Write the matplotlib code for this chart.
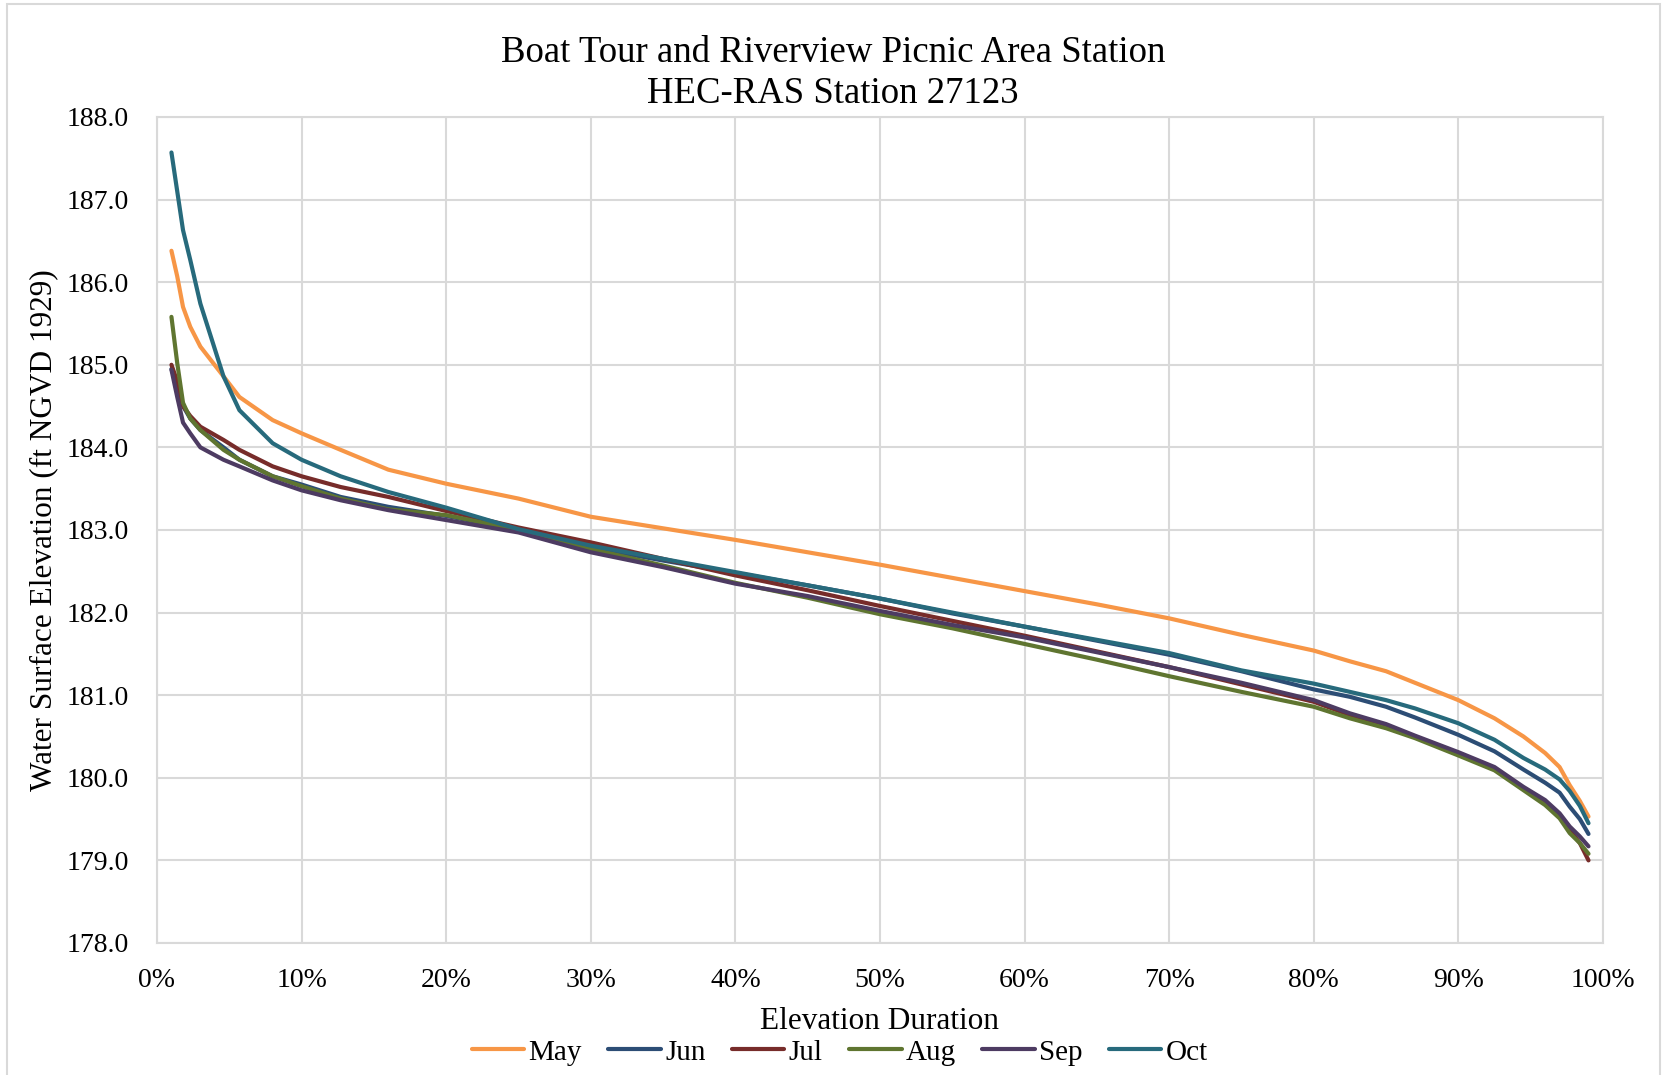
import matplotlib.pyplot as plt
from matplotlib.patches import Rectangle
from matplotlib.ticker import FuncFormatter

plt.rcParams['font.family'] = ['Liberation Serif', 'DejaVu Serif']

# percent of time elevation is exceeded
durasi = [1, 1.4, 1.8, 2.3, 3, 4.6, 5.7, 8, 10, 12.7, 16, 20, 25, 30, 35, 40, 45, 50, 55,
          60, 65, 70, 75, 80, 82.5, 85, 87, 90, 92.5, 94.5, 96, 97, 97.7, 98.4, 99]

may = [186.38, 186.07, 185.70, 185.46, 185.22, 184.86, 184.61, 184.33, 184.17, 183.97, 183.73,
       183.56, 183.38, 183.16, 183.02, 182.88, 182.73, 182.58, 182.42, 182.26, 182.10, 181.93,
       181.73, 181.54, 181.41, 181.29, 181.15, 180.94, 180.72, 180.50, 180.30, 180.13, 179.91,
       179.72, 179.53]
jun = [184.95, 184.75, 184.50, 184.35, 184.21, 184.00, 183.85, 183.65, 183.55, 183.40, 183.28,
       183.17, 183.00, 182.79, 182.63, 182.48, 182.33, 182.17, 181.99, 181.83, 181.66, 181.49,
       181.29, 181.07, 180.98, 180.86, 180.73, 180.52, 180.32, 180.10, 179.94, 179.82, 179.65,
       179.50, 179.32]
jul = [185.00, 184.80, 184.50, 184.38, 184.25, 184.09, 183.97, 183.77, 183.65, 183.52, 183.40,
       183.23, 183.03, 182.85, 182.65, 182.45, 182.27, 182.08, 181.90, 181.72, 181.53, 181.34,
       181.13, 180.92, 180.76, 180.62, 180.50, 180.29, 180.11, 179.87, 179.69, 179.53, 179.37,
       179.21, 179.00]
aug = [185.58, 185.02, 184.54, 184.35, 184.21, 183.97, 183.85, 183.65, 183.53, 183.38, 183.25,
       183.18, 183.00, 182.77, 182.57, 182.36, 182.18, 181.98, 181.81, 181.62, 181.43, 181.23,
       181.04, 180.86, 180.72, 180.60, 180.48, 180.27, 180.09, 179.85, 179.67, 179.51, 179.33,
       179.21, 179.08]
sep = [184.94, 184.61, 184.30, 184.17, 184.00, 183.85, 183.77, 183.60, 183.48, 183.36, 183.24,
       183.12, 182.97, 182.73, 182.55, 182.35, 182.20, 182.02, 181.85, 181.70, 181.52, 181.34,
       181.15, 180.94, 180.78, 180.65, 180.51, 180.31, 180.13, 179.89, 179.73, 179.57, 179.41,
       179.29, 179.17]
oct_ = [187.57, 187.10, 186.63, 186.27, 185.74, 184.86, 184.45, 184.05, 183.85, 183.65, 183.46,
        183.27, 183.01, 182.81, 182.65, 182.49, 182.33, 182.17, 182.00, 181.83, 181.67, 181.51,
        181.30, 181.14, 181.04, 180.94, 180.84, 180.66, 180.46, 180.24, 180.10, 179.98, 179.84,
        179.66, 179.45]

bulan = ['May', 'Jun', 'Jul', 'Aug', 'Sep', 'Oct']
seri = [may, jun, jul, aug, sep, oct_]
warna = ['#F79646', '#2C4D75', '#772C2A', '#5F7530', '#4D3B62', '#276A7C']

abu = '#D9D9D9'

fig = plt.figure(figsize=(16.63, 10.75), dpi=100)
ax = fig.add_axes([0.0944, 0.1228, 0.8695, 0.7684])

for nama, data, c in zip(bulan, seri, warna):
    ax.plot(durasi, data, color=c, lw=3, label=nama, solid_capstyle='round',
            solid_joinstyle='round')

ax.set_xlim(0, 100)
ax.set_ylim(178, 188)
ax.set_xticks(range(0, 101, 10))
ax.set_yticks(range(178, 189))
ax.xaxis.set_major_formatter(FuncFormatter(lambda v, p: f'{v:.0f}%'))
ax.yaxis.set_major_formatter(FuncFormatter(lambda v, p: f'{v:.1f}'))
ax.tick_params(length=0, labelsize=20)
ax.tick_params(axis='x', pad=18)
ax.tick_params(axis='y', pad=20)
ax.grid(True, color=abu, lw=1.5)
ax.set_axisbelow(True)
for s in ax.spines.values():
    s.set_color(abu)
    s.set_linewidth(1.5)

ax.set_xlabel('Elevation Duration', fontsize=22.5, labelpad=10)
ax.set_ylabel('Water Surface Elevation (ft NGVD 1929)', fontsize=22.5, labelpad=6)

fig.text(0.501, 0.951, 'Boat Tour and Riverview Picnic Area Station', fontsize=26.5,
         ha='center', va='center')
fig.text(0.501, 0.913, 'HEC-RAS Station 27123', fontsize=26.5, ha='center', va='center')

fig.legend(loc='center', bbox_to_anchor=(0.505, 0.021), ncol=6, frameon=False,
           fontsize=21, handlelength=1.8, handletextpad=0.15, columnspacing=0.9,
           borderaxespad=0)

# outer chart border (bottom edge runs off the page)
fig.patches.append(Rectangle((0.0042, -0.1), 0.9938, 1.0963, transform=fig.transFigure,
                             fill=False, edgecolor=abu, lw=1.5))

plt.savefig('out.png', dpi=100)
